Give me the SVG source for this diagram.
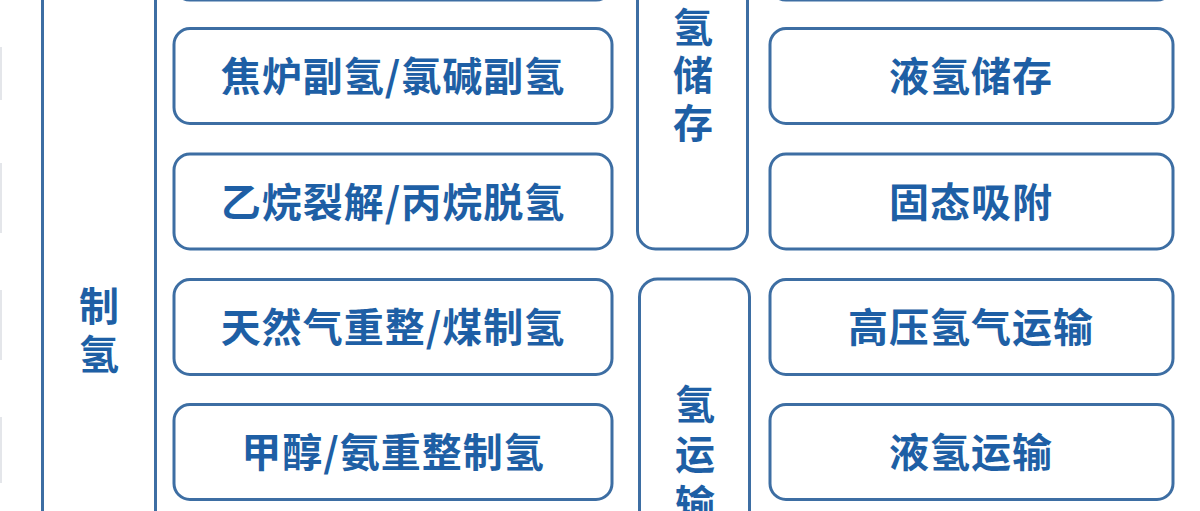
<svg xmlns="http://www.w3.org/2000/svg" width="1200" height="511" viewBox="0 0 1200 511">
<style>
.box{fill:#ffffff;stroke:#3d6ea3;stroke-width:3}
.col{fill:none;stroke:#3d6ea3;stroke-width:3}
.faint{stroke:#e4e6ea;stroke-width:2}
.t{font-family:"Noto Sans CJK SC","Noto Sans CJK TC",sans-serif;font-size:40px;font-weight:700;fill:#1e5fa5;text-anchor:middle;dominant-baseline:central}
.w{letter-spacing:1px}
.v{font-family:"Noto Sans CJK SC","Noto Sans CJK TC",sans-serif;font-size:40px;font-weight:700;fill:#1e5fa5;writing-mode:vertical-rl;text-anchor:start;dominant-baseline:central;letter-spacing:8px}
</style>
<rect width="1200" height="511" fill="#ffffff"/>
<g id="edge-marks">
<line class="faint" x1="1" y1="47" x2="1" y2="100"/>
<line class="faint" x1="1" y1="163" x2="1" y2="233"/>
<line class="faint" x1="1" y1="290" x2="1" y2="360"/>
<line class="faint" x1="1" y1="417" x2="1" y2="483"/>
</g>
<g id="connectors"></g>
<g id="col-zhiqing">
<line class="col" x1="42.5" y1="0" x2="42.5" y2="511"/>
<line class="col" x1="155.5" y1="0" x2="155.5" y2="511"/>
<text class="v" x="99" y="286">制氢</text>
</g>
<g id="left-top"><rect class="box" x="174" y="-96" width="438" height="96" rx="16"/></g>
<g id="left-1"><rect class="box" x="174" y="28.5" width="438" height="95" rx="16"/><text class="t w" x="393" y="74">焦炉副氢/氯碱副氢</text></g>
<g id="left-2"><rect class="box" x="174" y="154" width="438" height="95" rx="16"/><text class="t w" x="393" y="200">乙烷裂解/丙烷脱氢</text></g>
<g id="left-3"><rect class="box" x="174" y="279.5" width="438" height="95" rx="16"/><text class="t w" x="393" y="325">天然气重整/煤制氢</text></g>
<g id="left-4"><rect class="box" x="174" y="404.5" width="438" height="95" rx="16"/><text class="t w" x="393" y="450">甲醇/氨重整制氢</text></g>
<g id="storage"><rect class="box" x="637.5" y="-60" width="110" height="309" rx="18"/>
<text class="v" x="693" y="7">氢储存</text></g>
<g id="transport"><rect class="box" x="639.5" y="279" width="110" height="300" rx="18"/>
<text class="v" x="695" y="384" style="letter-spacing:10px">氢运输</text></g>
<g id="right-top"><rect class="box" x="770" y="-96" width="403" height="96" rx="16"/></g>
<g id="right-1"><rect class="box" x="770" y="28.5" width="403" height="95" rx="16"/><text class="t w" x="971" y="74">液氢储存</text></g>
<g id="right-2"><rect class="box" x="770" y="154" width="403" height="95" rx="16"/><text class="t w" x="971" y="200">固态吸附</text></g>
<g id="right-3"><rect class="box" x="770" y="279.5" width="403" height="95" rx="16"/><text class="t w" x="971" y="325">高压氢气运输</text></g>
<g id="right-4"><rect class="box" x="770" y="404.5" width="403" height="95" rx="16"/><text class="t w" x="971" y="450">液氢运输</text></g>
</svg>
